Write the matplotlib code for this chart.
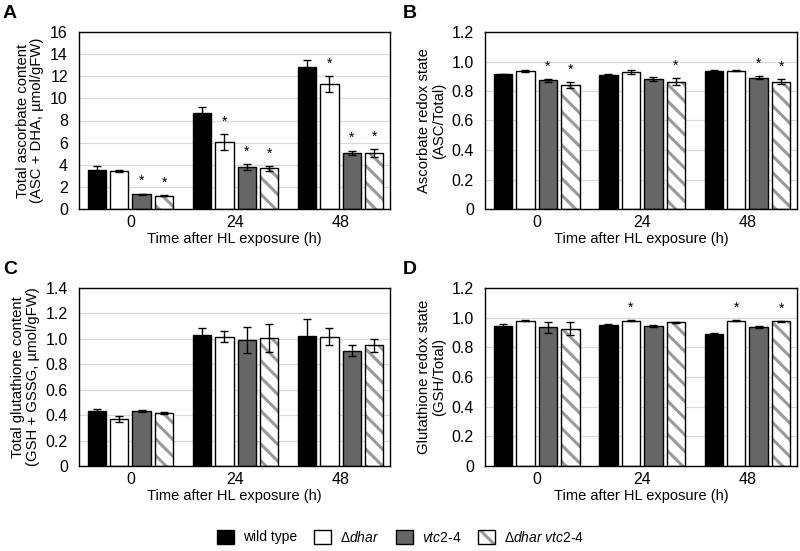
import numpy as np
import matplotlib.pyplot as plt
import matplotlib as mpl
from matplotlib.patches import Patch

plt.rcParams['font.family'] = ['Liberation Sans', 'DejaVu Sans']
plt.rcParams['font.size'] = 10
plt.rcParams['mathtext.fontset'] = 'custom'
plt.rcParams['mathtext.rm'] = 'Liberation Sans'
plt.rcParams['mathtext.it'] = 'Liberation Sans:italic'
mpl.rcParams['hatch.linewidth'] = 2.2

times = ['0', '24', '48']
genotypes = ['wild type', r'$\Delta\mathit{dhar}$', r'$\mathit{vtc2}$-$\mathit{4}$',
             r'$\Delta\mathit{dhar\ vtc2}$-$\mathit{4}$']

# A: total ascorbate
asc_total = [[3.55, 8.66, 12.8], [3.43, 6.07, 11.3], [1.35, 3.8, 5.08], [1.2, 3.67, 5.08]]
asc_total_err = [[0.3, 0.6, 0.63], [0.1, 0.7, 0.7], [0.05, 0.3, 0.2], [0.03, 0.2, 0.35]]
asc_total_sig = [[0, 0, 0], [0, 1, 1], [1, 1, 1], [1, 1, 1]]

# B: ascorbate redox state
asc_redox = [[0.912, 0.907, 0.936], [0.934, 0.927, 0.936], [0.873, 0.882, 0.891], [0.841, 0.864, 0.864]]
asc_redox_err = [[0.005, 0.008, 0.006], [0.005, 0.015, 0.003], [0.01, 0.015, 0.008], [0.02, 0.025, 0.017]]
asc_redox_sig = [[0, 0, 0], [0, 0, 0], [1, 0, 1], [1, 1, 1]]

# C: total glutathione
gsh_total = [[0.432, 1.03, 1.02], [0.368, 1.018, 1.018], [0.432, 0.99, 0.908], [0.416, 1.005, 0.95]]
gsh_total_err = [[0.02, 0.055, 0.14], [0.025, 0.04, 0.065], [0.01, 0.1, 0.045], [0.01, 0.11, 0.05]]
gsh_total_sig = [[0, 0, 0], [0, 0, 0], [0, 0, 0], [0, 0, 0]]

# D: glutathione redox state
gsh_redox = [[0.945, 0.95, 0.893], [0.979, 0.979, 0.979], [0.934, 0.943, 0.936], [0.925, 0.968, 0.977]]
gsh_redox_err = [[0.015, 0.005, 0.005], [0.003, 0.004, 0.003], [0.04, 0.005, 0.008], [0.045, 0.002, 0.003]]
gsh_redox_sig = [[0, 0, 0], [0, 1, 1], [0, 0, 0], [0, 0, 1]]

face = ['black', 'white', '#666666', 'white']
hatches = [None, None, None, '\\\\']
hatch_col = '#9a9a9a'

fig = plt.figure(figsize=(8, 5.51), dpi=100)
W, H = 800, 551

def make_ax(left, top, right, bottom):
    return fig.add_axes([left / W, 1 - bottom / H, (right - left) / W, (bottom - top) / H])

panels = [
    ('A', (3, 5), make_ax(79, 32, 390, 209), asc_total, asc_total_err, asc_total_sig,
     'Total ascorbate content\n(ASC + DHA, µmol/gFW)', 16, 2, '{:.0f}'),
    ('B', (403, 5), make_ax(485, 32, 797, 209), asc_redox, asc_redox_err, asc_redox_sig,
     'Ascorbate redox state\n(ASC/Total)', 1.2, 0.2, None),
    ('C', (3, 261), make_ax(79, 288, 390, 466), gsh_total, gsh_total_err, gsh_total_sig,
     'Total glutathione content\n(GSH + GSSG, µmol/gFW)', 1.4, 0.2, None),
    ('D', (403, 261), make_ax(485, 288, 797, 466), gsh_redox, gsh_redox_err, gsh_redox_sig,
     'Glutathione redox state\n(GSH/Total)', 1.2, 0.2, None),
]

x = np.arange(len(times))
width = 0.175
step = 0.213
for letter, lpos, ax, vals, errs, sigs, ylabel, ymax, ystep, fmt in panels:
    ax.set_axisbelow(True)
    ax.yaxis.grid(True, color='#d9d9d9', linewidth=0.8)
    for i in range(4):
        pos = x + (i - 1.5) * step
        if hatches[i]:
            # hatch drawn in grey, outline drawn on top in black
            ax.bar(pos, vals[i], width, color=face[i], edgecolor=hatch_col,
                   linewidth=0, hatch=hatches[i])
            ax.bar(pos, vals[i], width, fill=False, edgecolor='black', linewidth=1.0,
                   yerr=errs[i], capsize=3,
                   error_kw=dict(elinewidth=1.0, capthick=1.0, ecolor='black'))
        else:
            ax.bar(pos, vals[i], width, color=face[i], edgecolor='black', linewidth=1.0,
                   yerr=errs[i], capsize=3,
                   error_kw=dict(elinewidth=1.0, capthick=1.0, ecolor='black'))
        for j in range(3):
            if sigs[i][j]:
                ax.text(pos[j], vals[i][j] + errs[i][j] + ymax * 0.03, '*',
                        ha='center', va='bottom', fontsize=10)
    ax.set_xlim(-0.49, 2.47)
    ax.set_ylim(0, ymax)
    ticks = np.arange(0, ymax + 1e-9, ystep)
    ax.set_yticks(ticks)
    if fmt:
        ax.set_yticklabels([fmt.format(t) for t in ticks])
    else:
        ax.set_yticklabels(['0'] + ['{:.1f}'.format(t) for t in ticks[1:]])
    ax.set_xticks(x)
    ax.set_xticklabels(times)
    ax.tick_params(axis='both', length=0, labelsize=11.5)
    ax.tick_params(axis='y', pad=8)
    ax.tick_params(axis='x', pad=4)
    for s in ax.spines.values():
        s.set_linewidth(1.0)
    ax.set_xlabel('Time after HL exposure (h)', fontsize=10.5, labelpad=2)
    ax.set_ylabel(ylabel, fontsize=10.7, labelpad=4, linespacing=1.05)
    fig.text(lpos[0] / W, 1 - lpos[1] / H, letter, fontsize=14, fontweight='bold',
             ha='left', va='top')

handles = []
for i in range(4):
    if hatches[i]:
        handles.append((Patch(facecolor=face[i], edgecolor=hatch_col, linewidth=0, hatch=hatches[i]),
                        Patch(fill=False, edgecolor='black', linewidth=1.0)))
    else:
        handles.append(Patch(facecolor=face[i], edgecolor='black', linewidth=1.0))

fig.legend(handles, genotypes, loc='center', bbox_to_anchor=(401 / W, 1 - 537 / H),
           ncol=4, frameon=False, fontsize=10, handlelength=1.22, handleheight=1.22,
           columnspacing=1.2, handletextpad=0.65, borderpad=0)

fig.savefig('out.png', dpi=100)
